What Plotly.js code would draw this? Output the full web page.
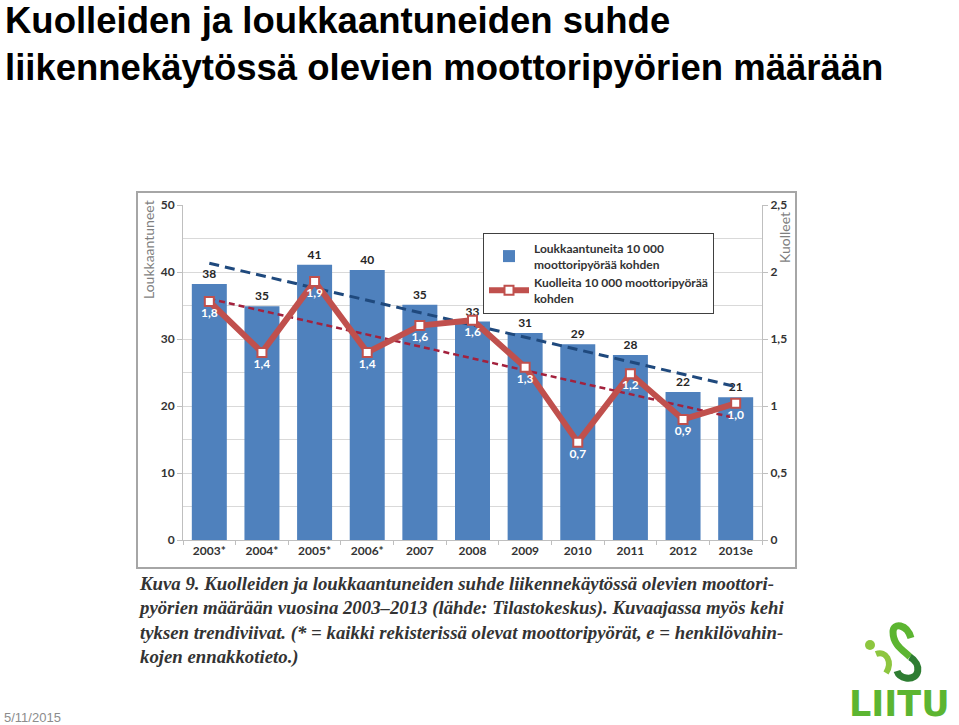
<!DOCTYPE html>
<html>
<head>
<meta charset="utf-8">
<script src="https://cdn.plot.ly/plotly-3.0.1.min.js"></script>
<style>
  html, body { margin: 0; padding: 0; background: #fff; }
  #chart { width: 959px; height: 725px; }
</style>
</head>
<body>
<div id="chart"></div>
<script>
// ---- Data ----
const categories = ['2003*', '2004*', '2005*', '2006*', '2007', '2008', '2009', '2010', '2011', '2012', '2013e'];
const injured = [38.2, 34.9, 41.1, 40.3, 35.1, 32.6, 30.9, 29.2, 27.6, 22.1, 21.3];
const deaths = [1.78, 1.40, 1.93, 1.40, 1.60, 1.64, 1.29, 0.73, 1.24, 0.90, 1.02];
const trendCategories = ['2003*', '2013e'];
const injuredTrend = [41.3, 22.9];
const deathsTrend = [1.80, 0.91];
const injuredName = 'Loukkaantuneita 10 000<br>moottoripyörää kohden';
const deathsName = 'Kuolleita 10 000 moottoripyörää<br>kohden';
const leftTitle = 'Loukkaantuneet';
const rightTitle = 'Kuolleet';
const slideTitle = 'Kuolleiden ja loukkaantuneiden suhde<br>liikennekäytössä olevien moottoripyörien määrään';
const caption = 'Kuva 9. Kuolleiden ja loukkaantuneiden suhde liikennekäytössä olevien moottori-<br>' +
  'pyörien määrään vuosina 2003–2013 (lähde: Tilastokeskus). Kuvaajassa myös kehi<br>' +
  'tyksen trendiviivat. (* = kaikki rekisterissä olevat moottoripyörät, e = henkilövahin-<br>' +
  'kojen ennakkotieto.)';
const dateText = '5/11/2015';
const logoText = 'LIITU';

// ---- Geometry helpers (pixel -> paper) ----
const L = 183, R = 762, T = 205, B = 540;
const W = 959, H = 725;
const X = px => (px - L) / (R - L);
const Y = py => (B - py) / (B - T);
function path(segs) {
  return segs.map(s => s[0] + ' ' + s.slice(1).reduce((a, v, i) => {
    if (i % 2 === 0) a.push(X(v).toFixed(4)); else a[a.length - 1] += ',' + Y(v).toFixed(4);
    return a;
  }, []).join(' ')).join(' ');
}

const chartFont = 'Lato, "Open Sans", sans-serif';

const traces = [
  {
    type: 'bar', x: categories, y: injured, name: injuredName,
    marker: { color: '#4f81bd' },
    texttemplate: '%{y:.0f}', textposition: 'outside', cliponaxis: false,
    textfont: { family: chartFont, size: 12, color: '#262626', weight: 'bold' },
    hoverinfo: 'x+y'
  },
  {
    type: 'scatter', mode: 'lines', x: trendCategories, y: injuredTrend,
    line: { color: '#1f497d', width: 3, dash: '10px,6px' }, showlegend: false, hoverinfo: 'skip'
  },
  {
    type: 'scatter', mode: 'lines', x: trendCategories, y: deathsTrend, yaxis: 'y2',
    line: { color: '#a3213d', width: 2.5, dash: '6px,4px' }, showlegend: false, hoverinfo: 'skip'
  },
  {
    type: 'scatter', mode: 'lines+markers+text', x: categories, y: deaths, yaxis: 'y2', name: deathsName,
    line: { color: '#c0504d', width: 6 },
    marker: { symbol: 'square', size: 9, color: '#ffffff', line: { color: '#c0504d', width: 2 } },
    texttemplate: '%{y:.1f}', textposition: 'bottom center', cliponaxis: false,
    textfont: { family: chartFont, size: 12, color: '#ffffff', weight: 'bold' }
  }
];

const shapes = [
  // outer frame of the embedded chart
  { type: 'rect', xref: 'paper', yref: 'paper', x0: X(137), x1: X(796), y0: Y(568), y1: Y(192),
    line: { color: '#a6a6a6', width: 2 }, fillcolor: 'rgba(0,0,0,0)', layer: 'below' },
  // logo figure
  { type: 'circle', xref: 'paper', yref: 'paper', x0: X(865), x1: X(875), y0: Y(650), y1: Y(640),
    fillcolor: '#8dc63f', line: { width: 0 } },
  { type: 'path', xref: 'paper', yref: 'paper',
    path: path([['M', 876, 654], ['C', 886, 650, 893, 662, 886, 673]]),
    line: { color: '#8dc63f', width: 6 }, fillcolor: 'rgba(0,0,0,0)' },
  { type: 'path', xref: 'paper', yref: 'paper',
    path: path([['M', 911, 638], ['C', 907, 624, 893, 622, 893, 632], ['C', 893, 645, 903, 650, 910, 657]]),
    line: { color: '#5cb531', width: 7 }, fillcolor: 'rgba(0,0,0,0)' },
  { type: 'path', xref: 'paper', yref: 'paper',
    path: path([['M', 910, 657], ['C', 922, 664, 920, 680, 906, 678], ['C', 900, 677, 898, 674, 897, 671]]),
    line: { color: '#2e7d32', width: 7 }, fillcolor: 'rgba(0,0,0,0)' }
];

const annotations = [
  { text: slideTitle, xref: 'paper', yref: 'paper', x: X(3), y: Y(-2), xanchor: 'left', yanchor: 'top',
    align: 'left', showarrow: false,
    font: { family: '"Liberation Sans", Arial, sans-serif', size: 36.5, color: '#000000', weight: 'bold' } },
  { text: leftTitle, xref: 'paper', yref: 'paper', x: X(148), y: Y(250), xanchor: 'center', yanchor: 'middle',
    textangle: -90, showarrow: false,
    font: { family: chartFont, size: 14, color: '#7f7f7f' } },
  { text: rightTitle, xref: 'paper', yref: 'paper', x: X(784), y: Y(238), xanchor: 'center', yanchor: 'middle',
    textangle: -90, showarrow: false,
    font: { family: chartFont, size: 14, color: '#7f7f7f' } },
  { text: caption, xref: 'paper', yref: 'paper', x: X(136), y: Y(571), xanchor: 'left', yanchor: 'top',
    align: 'left', showarrow: false,
    font: { family: '"Liberation Serif", "Times New Roman", serif', size: 18.8, color: '#333333', style: 'italic', weight: 'bold' } },
  { text: dateText, xref: 'paper', yref: 'paper', x: X(2), y: Y(717), xanchor: 'left', yanchor: 'middle',
    showarrow: false, font: { family: '"Liberation Sans", Arial, sans-serif', size: 13, color: '#8c8c8c' } },
  { text: logoText, xref: 'paper', yref: 'paper', x: X(899), y: Y(704), xanchor: 'center', yanchor: 'middle',
    showarrow: false, font: { family: '"DejaVu Sans", sans-serif', size: 35, color: '#5cb531', weight: 'bold' } }
];

const tickFont = { family: chartFont, size: 12, color: '#333333', weight: 'bold' };

const layout = {
  width: W, height: H,
  margin: { l: L, r: W - R, t: T, b: H - B, pad: 0, autoexpand: false },
  paper_bgcolor: '#ffffff', plot_bgcolor: '#ffffff',
  separators: ', ',
  bargap: 0.335,
  showlegend: true,
  legend: {
    x: X(483), y: Y(233), xanchor: 'left', yanchor: 'top',
    bgcolor: '#ffffff', bordercolor: '#404040', borderwidth: 1,
    font: { family: chartFont, size: 12, color: '#333333', weight: 'bold' },
    tracegroupgap: 0, itemwidth: 40
  },
  xaxis: {
    type: 'category', range: [-0.5, 10.5], autorange: false, automargin: false,
    showline: true, linecolor: '#bfbfbf', linewidth: 1,
    ticks: 'outside', tickson: 'boundaries', ticklen: 4, tickcolor: '#bfbfbf',
    tickfont: tickFont,
    showgrid: false, zeroline: false, fixedrange: true
  },
  yaxis: {
    range: [0, 50], autorange: false, automargin: false, dtick: 10, tick0: 0,
    showline: true, linecolor: '#bfbfbf', linewidth: 1,
    ticks: 'outside', ticklen: 5, tickcolor: '#bfbfbf',
    tickfont: tickFont,
    showgrid: true, gridcolor: '#d9d9d9', gridwidth: 1,
    minor: { dtick: 5, showgrid: true, gridcolor: '#d9d9d9', gridwidth: 1 },
    zeroline: false, fixedrange: true
  },
  yaxis2: {
    overlaying: 'y', side: 'right', range: [0, 2.5], autorange: false, automargin: false, dtick: 0.5, tick0: 0,
    showline: true, linecolor: '#bfbfbf', linewidth: 1,
    ticks: 'outside', ticklen: 5, tickcolor: '#bfbfbf',
    tickfont: tickFont,
    showgrid: false, zeroline: false, fixedrange: true
  },
  shapes: shapes,
  annotations: annotations
};

Plotly.newPlot('chart', traces, layout, { displayModeBar: false, staticPlot: true });
</script>
</body>
</html>
